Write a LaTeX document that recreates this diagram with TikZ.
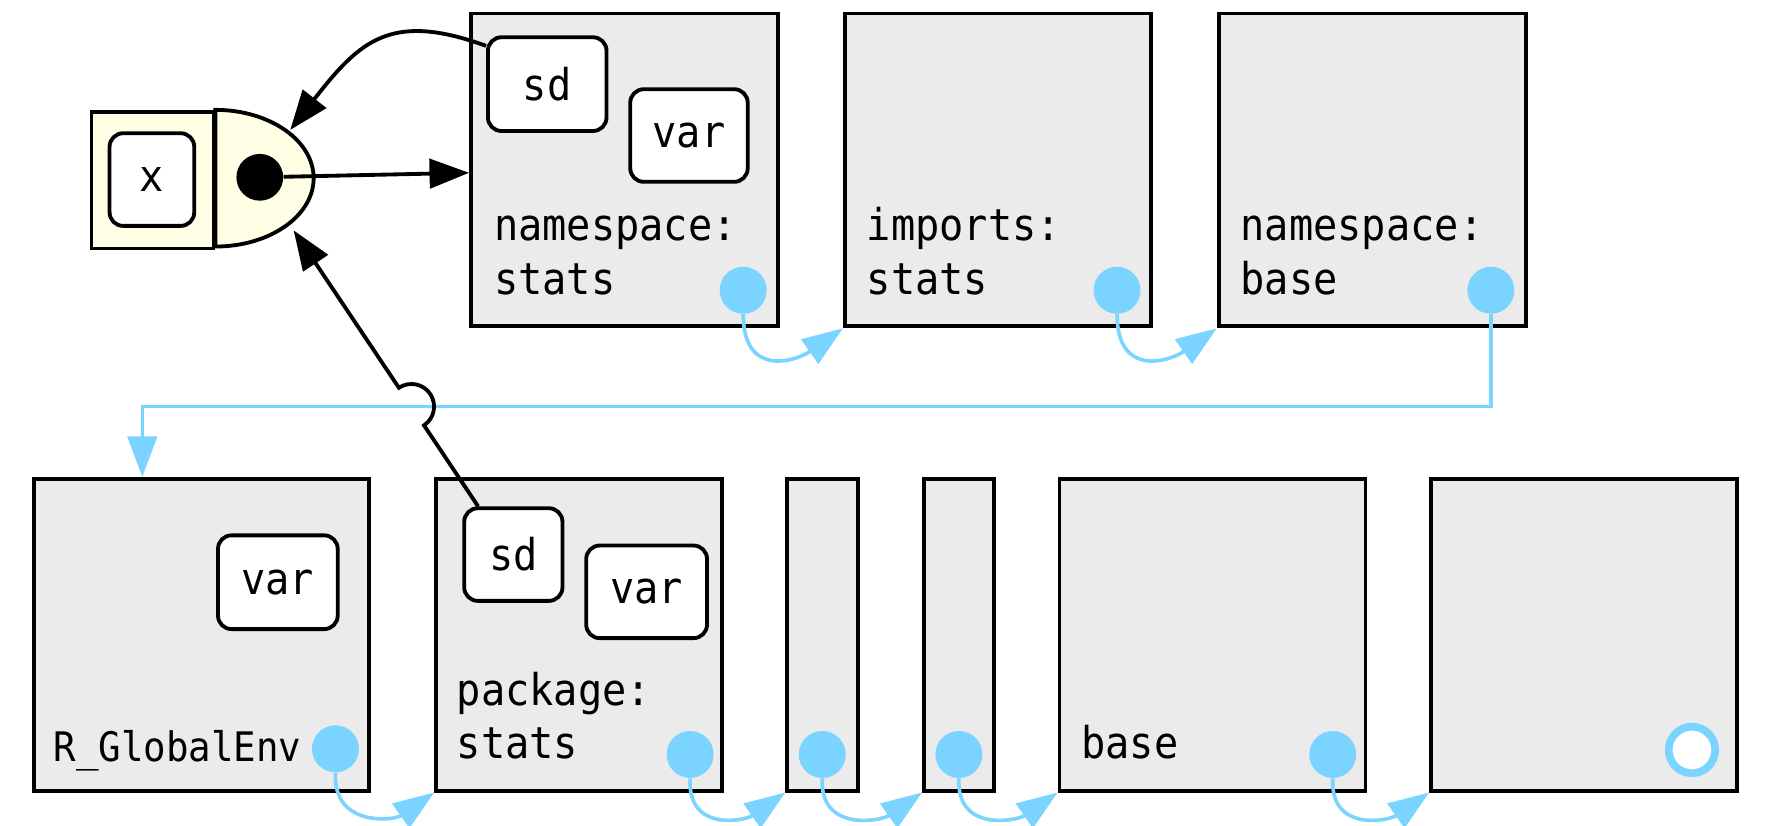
\documentclass[tikz,border=0pt]{standalone}
\usepackage{fontspec}
\usepackage{xcolor}
\usepackage{tikz}
\usetikzlibrary{calc, arrows.meta}

\newfontfamily\envfont[FakeStretch=0.92]{DejaVu Sans Mono}
\definecolor{envblue}{RGB}{122,212,255}
\definecolor{envgrey}{RGB}{235,235,235}
\definecolor{bindcream}{RGB}{255,255,230}

\tikzset{
	env/.style = {draw, line width=1.7pt, fill=envgrey, inner sep=0pt, minimum height=138.5pt},
	obj/.style = {draw, line width=1.7pt, fill=white, rounded corners=6pt, minimum width=52.5pt, minimum height=41.5pt, inner sep=0pt, font=\envfont\fontsize{19.4}{23}\selectfont},
	lbl/.style = {anchor=base west, inner sep=0pt, font=\envfont\fontsize{19.4}{23}\selectfont},
	parent/.style = {fill=envblue, circle, minimum size=20.8pt, inner sep=0pt},
	chain/.style = {draw=envblue, line width=1.6pt, -{Triangle[length=18pt, width=13pt]}},
	bind/.style = {line width=1.7pt, -{Triangle[length=17.5pt, width=13pt]}},
}

\begin{document}
\begin{tikzpicture}[x=0.5pt, y=0.5pt]
		\useasboundingbox (0,0) rectangle (1568,731);
		
		% environments, top row
		\node [env, minimum width=136pt] (nsstats) at (553,580.5) {};
		\node [env, minimum width=135.5pt] (impstats) at (883.5,580.5) {};
		\node [env, minimum width=136pt] (nsbase) at (1215,580.5) {};
		
		% environments, bottom row
		\node [env, minimum width=148.5pt, minimum height=138pt] (global) at (178.5,169) {};
		\node [env, minimum width=126.5pt, minimum height=138pt] (pkgstats) at (512.5,169) {};
		\node [env, minimum width=31.5pt, minimum height=138pt] (pkgA) at (728.5,169) {};
		\node [env, minimum width=31pt, minimum height=138pt] (pkgB) at (849,169) {};
		\node [env, minimum width=135.5pt, minimum height=138pt] (base) at (1073.5,169) {};
		\node [env, minimum width=135.5pt, minimum height=138pt] (empty) at (1402.5,169) {};
		
		% names
		\node [lbl] (nsstats l1) at (437,518) {namespace:};
		\node [lbl] (nsstats l2) at (437,470) {stats};
		\node [lbl] (impstats l1) at (767,518) {imports:};
		\node [lbl] (impstats l2) at (767,470) {stats};
		\node [lbl] (nsbase l1) at (1098,518) {namespace:};
		\node [lbl] (nsbase l2) at (1098,470) {base};
		\node [lbl, font=\envfont\fontsize{18}{22}\selectfont] (global l1) at (47,57) {R\_GlobalEnv};
		\node [lbl] (pkgstats l1) at (404,106) {package:};
		\node [lbl] (pkgstats l2) at (404,59) {stats};
		\node [lbl] (base l1) at (957,59) {base};
		
		% parents
		\node [parent] (pnsstats) at (658,474) {};
		\node [parent] (pimpstats) at (989,474) {};
		\node [parent] (pnsbase) at (1320,474) {};
		\node [parent] (pglobal) at (297,68) {};
		\node [parent] (ppkgstats) at (611,63) {};
		\node [parent] (ppkgA) at (728,63) {};
		\node [parent] (ppkgB) at (849,63) {};
		\node [parent] (pbase) at (1180,63) {};
		\draw [envblue, line width=3.4pt, fill=white] (1498,67) circle [radius=10.3pt];
		
		\foreach \p/\e in {pnsstats/impstats, pimpstats/nsbase}
			\draw [chain] (\p.south) .. controls +(-90:28pt) and +(215:26pt) .. (\e.south west);
		\foreach \p/\e in {pglobal/pkgstats, ppkgstats/pkgA, ppkgA/pkgB, ppkgB/base, pbase/empty}
			\draw [chain] (\p.south) .. controls +(-93:24pt) and +(215:22pt) .. (\e.south west);
		
		\coordinate (drop) at (126,371);
		\coordinate (dropright) at (pnsbase |- drop);
		\draw [chain] (pnsbase.south) |- (drop) -- (drop |- global.north);
		
		% binding
		\node [draw, line width=1.7pt, fill=bindcream, minimum width=54pt, minimum height=60.5pt, inner sep=0pt] (bindname) at (135,571.5) {};
		\draw [line width=1.7pt, fill=bindcream] (bindname.north east) arc [start angle=90, end angle=-90, x radius=43.5pt, y radius=30.25pt] -- cycle;
		\node [obj, minimum width=37.5pt, minimum height=41pt] (xname) at (134.5,572) {x};
		\node [circle, fill, minimum size=20.7pt, inner sep=0pt] (val) at (230,574) {};
		
		\coordinate (valtop) at (257,616);
		\coordinate (valbot) at (260,527);
		
		% objects
		\node [obj] (sdns) at (484.5,656.5) {sd};
		\node [obj, minimum width=52pt, minimum height=41pt] (varns) at (610,611) {var};
		\node [obj, minimum width=53pt] (varglobal) at (246,215.5) {var};
		\node [obj, minimum width=43.5pt, minimum height=41pt] (sdpkg) at (454.5,240) {sd};
		\node [obj, minimum width=53.5pt, minimum height=41pt] (varpkg) at (572.5,207) {var};
		
		%bindings
		\draw [bind] (val) -- ([yshift=-1.25pt]nsstats.west);
		\draw [bind] (sdns.148) .. controls +(160:45pt) and +(52:50pt) .. (valtop);
		
		\coordinate (sdfoot) at ([xshift=7pt]sdpkg.north west);
		\coordinate (hop) at (intersection of sdfoot--valbot and drop--dropright);
		\draw [bind] let \p1 = ($(sdfoot)-(valbot)$), \n1 = {atan2(\y1,\x1)} in
			(sdfoot) -- ($(hop)!10pt!(sdfoot)$) arc [start angle=\n1, delta angle=180, radius=10pt] -- (valbot);
	\end{tikzpicture}
\end{document}
